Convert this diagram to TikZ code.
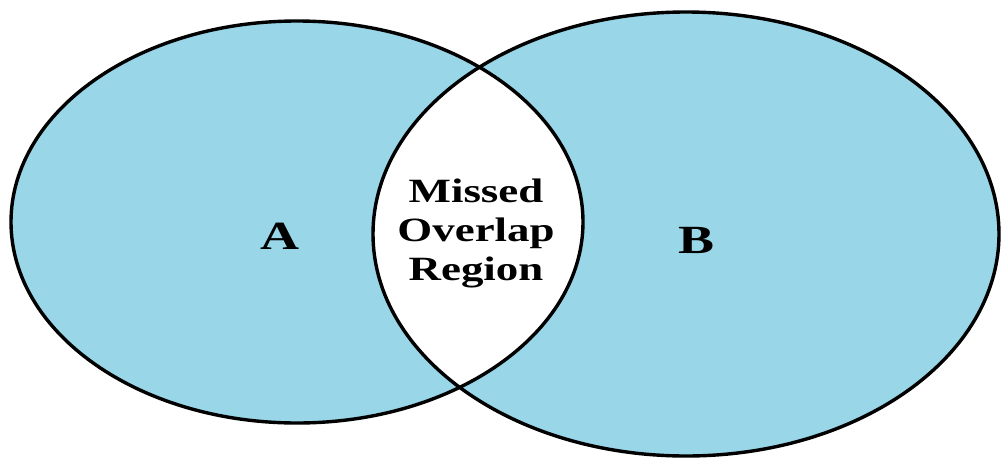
\documentclass[tikz,border=0pt]{standalone}
\usepackage{fontspec}
\setmainfont{Liberation Serif}
\definecolor{vennblue}{RGB}{152,214,232}

\begin{document}
\begin{tikzpicture}[x=1pt, y=-1pt,
  setfill/.style={fill=vennblue},
  setline/.style={draw=black, line width=3.4pt},
  setlabel/.style={font=\bfseries\fontsize{40}{40}\selectfont, xscale=1.35},
  lenslabel/.style={font=\bfseries\fontsize{34}{39}\selectfont, align=center,
    xscale=1.32, inner sep=0pt}
]
\useasboundingbox (0,0) rectangle (1002,461);
\def\setA{(297,222) ellipse [x radius=286, y radius=201]}
\def\setB{(686,234) ellipse [x radius=313, y radius=222]}

% the two sets
\fill[setfill] \setA;
\fill[setfill] \setB;

% overlap left blank
\begin{scope}
  \clip \setA;
  \fill[white] \setB;
\end{scope}

\draw[setline] \setA;
\draw[setline] \setB;

\node[setlabel] (labelA) at (280,236) {A};
\node[setlabel] (labelB) at (697,240) {B};
\node[lenslabel] (lens) at (476,233) {Missed\\Overlap\\Region};
\end{tikzpicture}
\end{document}
